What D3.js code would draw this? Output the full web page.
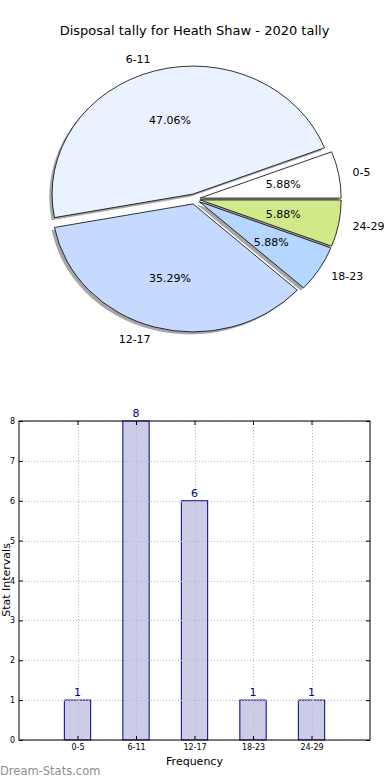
<!DOCTYPE html>
<html>
<head>
<meta charset="utf-8">
<script src="https://cdn.jsdelivr.net/npm/d3@7"></script>
<style>
  html, body { margin: 0; padding: 0; background: #fff; }
  svg { display: block; font-family: "DejaVu Sans", sans-serif; }
</style>
</head>
<body>
<svg id="chart" width="390" height="780"></svg>
<script>
// ---- data ----
const title = "Disposal tally for Heath Shaw - 2020 tally";
const categories = ["0-5", "6-11", "12-17", "18-23", "24-29"];
const counts = [1, 8, 6, 1, 1];
const pieColors = ["#ffffff", "#eaf2ff", "#c6d9ff", "#b4d6ff", "#d0ea8a"];
const explode = [0.04, 0.04, 0.04, 0.04, 0.04];
const yTicks = [0, 1, 2, 3, 4, 5, 6, 7, 8];
const xLabel = "Frequency";
const yLabel = "Stat Intervals";
const watermark = "Dream-Stats.com";

(function () {
const svg = d3.select("#chart");

// ---- title ----
svg.append("text")
  .attr("x", 194.5).attr("y", 34.5)
  .attr("text-anchor", "middle")
  .attr("font-size", 13)
  .attr("fill", "#000")
  .text(title);

// ---- pie ----
const cx = 194.6, cy = 199, rx = 141, ry = 128;
const total = d3.sum(counts);
const pie = d3.pie().sort(null).value(d => d)
  .startAngle(Math.PI / 2).endAngle(Math.PI / 2 - 2 * Math.PI);
const arcs = pie(counts);
const arcGen = d3.arc().innerRadius(0).outerRadius(100);
const sx = rx / 100, sy = ry / 100;

function offset(d, i) {
  const a = (d.startAngle + d.endAngle) / 2;
  return [explode[i] * rx * Math.sin(a), -explode[i] * ry * Math.cos(a)];
}

const pieG = svg.append("g");
arcs.forEach((d, i) => {
  const [ox, oy] = offset(d, i);
  pieG.append("path")
    .attr("d", arcGen(d))
    .attr("transform", `translate(${cx + ox - 0.02 * rx},${cy + oy + 0.02 * ry}) scale(${sx},${sy})`)
    .attr("fill", "#4d4d4d")
    .attr("fill-opacity", 0.5)
    .attr("stroke", "none");
});
arcs.forEach((d, i) => {
  const [ox, oy] = offset(d, i);
  pieG.append("path")
    .attr("d", arcGen(d))
    .attr("transform", `translate(${cx + ox},${cy + oy}) scale(${sx},${sy})`)
    .attr("fill", pieColors[i])
    .attr("stroke", "#000")
    .attr("stroke-width", 0.8)
    .attr("vector-effect", "non-scaling-stroke")
    .attr("stroke-linejoin", "round");
});
arcs.forEach((d, i) => {
  const [ox, oy] = offset(d, i);
  const a = (d.startAngle + d.endAngle) / 2;
  const ux = Math.sin(a), uy = -Math.cos(a);
  const lx = cx + ox + 1.1 * rx * ux, ly = cy + oy + 1.1 * ry * uy;
  pieG.append("text")
    .attr("x", lx).attr("y", ly)
    .attr("dy", "0.35em")
    .attr("text-anchor", ux >= 0 ? "start" : "end")
    .attr("font-size", 11)
    .text(categories[i]);
  const px = cx + ox + 0.6 * rx * ux, py = cy + oy + 0.6 * ry * uy;
  pieG.append("text")
    .attr("x", px).attr("y", py)
    .attr("dy", "0.35em")
    .attr("text-anchor", "middle")
    .attr("font-size", 11)
    .text((counts[i] / total * 100).toFixed(2) + "%");
});

// ---- bar chart ----
const pLeft = 19, pRight = 370, pTop = 421, pBottom = 740;
const x = d3.scaleLinear().domain([-1, 5]).range([pLeft, pRight]);
const y = d3.scaleLinear().domain([0, 8]).range([pBottom, pTop]);
const barW = 0.45;
const barG = svg.append("g");

barG.selectAll("rect.bar").data(counts).enter().append("rect")
  .attr("class", "bar")
  .attr("x", (d, i) => x(i - barW / 2))
  .attr("width", (d, i) => x(i + barW / 2) - x(i - barW / 2))
  .attr("y", d => y(d))
  .attr("height", d => y(0) - y(d))
  .attr("fill", "#ccccE6")
  .attr("stroke", "#00008b")
  .attr("stroke-width", 1);

const gridG = barG.append("g").attr("stroke", "#b8b8b8").attr("stroke-width", 1)
  .attr("stroke-dasharray", "1,2");
yTicks.forEach(t => {
  gridG.append("line").attr("x1", pLeft).attr("x2", pRight)
    .attr("y1", Math.round(y(t)) + 0.5).attr("y2", Math.round(y(t)) + 0.5);
});
categories.forEach((c, i) => {
  gridG.append("line").attr("y1", pTop).attr("y2", pBottom)
    .attr("x1", Math.round(x(i)) + 0.5).attr("x2", Math.round(x(i)) + 0.5);
});

barG.selectAll("text.val").data(counts).enter().append("text")
  .attr("class", "val")
  .attr("x", (d, i) => x(i))
  .attr("y", d => y(d) - 4)
  .attr("text-anchor", "middle")
  .attr("font-size", 11)
  .attr("fill", "#00008b")
  .text(d => d);

const yAxisL = d3.axisLeft(y).tickValues(yTicks).tickSizeInner(-4).tickSizeOuter(0).tickPadding(4);
const yAxisR = d3.axisRight(y).tickValues(yTicks).tickSizeInner(-4).tickSizeOuter(0).tickFormat("");
const xAxisB = d3.axisBottom(x).tickValues(d3.range(categories.length)).tickSizeInner(-4).tickSizeOuter(0)
  .tickPadding(4).tickFormat(i => categories[i]);
const xAxisT = d3.axisTop(x).tickValues(d3.range(categories.length)).tickSizeInner(-4).tickSizeOuter(0).tickFormat("");

function styleAxis(g) {
  g.select(".domain").remove();
  g.selectAll(".tick line").attr("stroke", "#000");
  g.selectAll(".tick text").attr("font-size", 8).attr("fill", "#000")
    .attr("font-family", "DejaVu Sans, sans-serif");
}
barG.append("g").attr("transform", `translate(${pLeft},0)`).call(yAxisL).call(styleAxis);
barG.append("g").attr("transform", `translate(${pRight},0)`).call(yAxisR).call(styleAxis);
barG.append("g").attr("transform", `translate(0,${pBottom})`).call(xAxisB).call(styleAxis);
barG.append("g").attr("transform", `translate(0,${pTop})`).call(xAxisT).call(styleAxis);

barG.append("rect")
  .attr("x", pLeft).attr("y", pTop)
  .attr("width", pRight - pLeft).attr("height", pBottom - pTop)
  .attr("fill", "none").attr("stroke", "#000").attr("stroke-width", 1);

svg.append("text")
  .attr("x", (pLeft + pRight) / 2).attr("y", 765)
  .attr("text-anchor", "middle").attr("font-size", 11)
  .text(xLabel);
svg.append("text")
  .attr("transform", "translate(9.5,580) rotate(-90)")
  .attr("text-anchor", "middle").attr("font-size", 11)
  .text(yLabel);

svg.append("text")
  .attr("x", 0).attr("y", 775)
  .attr("font-size", 11.5)
  .attr("fill", "#8e8e8e")
  .text(watermark);
})();
</script>
</body>
</html>
